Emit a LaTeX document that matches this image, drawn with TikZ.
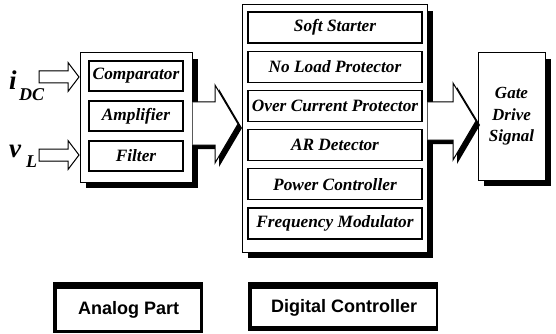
\documentclass[tikz,border=0pt]{standalone}
\usepackage{fontspec}
\setmainfont{Liberation Serif}
\newfontfamily\legendfont{Liberation Sans}
\usetikzlibrary{shadows,calc}
\begin{document}
\begin{tikzpicture}[x=1pt,y=-1pt,
  bigbox/.style={draw=black, fill=white, line width=1pt, inner sep=0pt,
    drop shadow={shadow xshift=6pt, shadow yshift=-6pt, opacity=1, fill=black}},
  innerbox/.style={draw=black, fill=white, line width=1.3pt, inner sep=0pt,
    minimum height=30pt, font=\fontsize{17.3}{19}\selectfont\bfseries\itshape},
  arrowbody/.style={fill=white},
  arrowline/.style={draw=black, line width=1pt, line join=miter},
  legendbox/.style={draw=none, fill=white, inner sep=0pt, font=\fontsize{18}{20}\selectfont\legendfont\bfseries},
  sig/.style={inner sep=0pt, anchor=base west, font=\fontsize{27}{28}\selectfont\bfseries\itshape},
  sub/.style={inner sep=0pt, anchor=base west, font=\fontsize{18}{18}\selectfont\bfseries\itshape}]
\useasboundingbox (0,0) rectangle (556,334);

% ---- main boxes
\node[bigbox, minimum width=112pt, minimum height=129pt] (analog) at (136,117.5) {};
\node[bigbox, minimum width=185pt, minimum height=247pt] (digital) at (334.5,128.5) {};
\node[bigbox, minimum width=67pt, minimum height=127pt, align=center,
      font=\fontsize{17}{21.5}\selectfont\bfseries\itshape] (gate) at (511.5,116.5) {Gate\\Drive\\Signal};

% ---- analog inner
\begin{scope}[every node/.style={innerbox, minimum width=94pt}]
\node (comp) at (136,76) {Comparator};
\node (amp)  at (136,116) {Amplifier};
\node (filt) at (136,156) {Filter};
\end{scope}

% ---- digital inner
\begin{scope}[every node/.style={innerbox, minimum width=174pt, minimum height=31pt}]
\node (soft) at (335,27.5) {Soft Starter};
\node (nol)  at (335,66.7) {No Load Protector};
\node (ocp)  at (335,105.9) {Over Current Protector};
\node (ard)  at (335,145.1) {AR Detector};
\node (pwr)  at (335,184.3) {Power Controller};
\node (freq) at (335,223.5) {Frequency Modulator};
\end{scope}

% ---- block arrow analog -> digital
\fill[black, shift={(4,4)}] (192,102) -- (215,102) -- (215,85) -- (238,124) -- (215,163) -- (215,145) -- (192,145) -- cycle;
\fill[arrowbody] (analog.east |- 0,102) -- (215,102) -- (215,85) -- (238,124) -- (215,163) -- (215,145) -- (analog.east |- 0,145) -- cycle;
\draw[arrowline] (analog.east |- 0,102) -- (215,102) -- (215,85) -- (238,124) -- (215,163) -- (215,145) -- (analog.east |- 0,145);

% ---- block arrow digital -> gate
\fill[black, shift={(4,4)}] (427,102) -- (453,102) -- (453,83) -- (476,121) -- (453,160) -- (453,140) -- (427,140) -- cycle;
\fill[arrowbody] (digital.east |- 0,102) -- (453,102) -- (453,83) -- (476,121) -- (453,160) -- (453,140) -- (digital.east |- 0,140) -- cycle;
\draw[arrowline] (digital.east |- 0,102) -- (453,102) -- (453,83) -- (476,121) -- (453,160) -- (453,140) -- (digital.east |- 0,140);

% ---- input arrows
\coordinate (inI) at (39,77);
\coordinate (inV) at (39,155);
\foreach \c in {inI,inV}{
  \fill[black, shift={(3,3)}] ($(\c)+(0,-6)$) -- ++(29,0) -- ++(0,-8.5) -- ++(11,14.5) -- ++(-11,14.5) -- ++(0,-8.5) -- ++(-29,0) -- cycle;
  \filldraw[fill=white, draw=black, line width=1pt] ($(\c)+(0,-6)$) -- ++(29,0) -- ++(0,-8.5) -- ++(11,14.5) -- ++(-11,14.5) -- ++(0,-8.5) -- ++(-29,0) -- cycle;
}

% ---- signal labels
\node[sig] (iL) at (9,90) {i};
\node[sub] (iS) at (19,101) {DC};
\node[sig] (vL) at (9,157) {v};
\node[sub] (vS) at (26,167) {L};

% ---- legend
\fill (53,282) rectangle (203,333);
\node[legendbox, minimum width=143pt, minimum height=41pt, anchor=north west] (lgA) at (57,289) {Analog Part};
\fill (248,282) rectangle (438,331);
\node[legendbox, minimum width=184pt, minimum height=37pt, anchor=north west] (lgD) at (252,289) {Digital Controller};
\end{tikzpicture}
\end{document}
